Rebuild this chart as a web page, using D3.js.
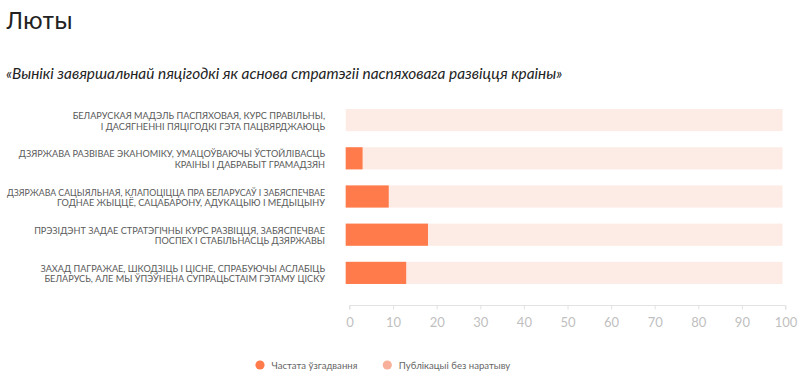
<!DOCTYPE html>
<html><head><meta charset="utf-8">
<script src="https://cdn.jsdelivr.net/npm/d3@7"></script>
<style>
html,body{margin:0;padding:0;background:#fff;}
svg{display:block;}
</style></head>
<body>
<svg id="c" width="800" height="379"></svg>
<script>
const title = "Люты";
const subtitle = "«Вынікі завяршальнай пяцігодкі як аснова стратэгіі паспяховага развіцця краіны»";
const categories = [
  ["БЕЛАРУСКАЯ МАДЭЛЬ ПАСПЯХОВАЯ, КУРС ПРАВІЛЬНЫ,", "І ДАСЯГНЕННІ ПЯЦІГОДКІ ГЭТА ПАЦВЯРДЖАЮЦЬ"],
  ["ДЗЯРЖАВА РАЗВІВАЕ ЭКАНОМІКУ, УМАЦОЎВАЮЧЫ ЎСТОЙЛІВАСЦЬ", "КРАІНЫ І ДАБРАБЫТ ГРАМАДЗЯН"],
  ["ДЗЯРЖАВА САЦЫЯЛЬНАЯ, КЛАПОЦІЦЦА ПРА БЕЛАРУСАЎ І ЗАБЯСПЕЧВАЕ", "ГОДНАЕ ЖЫЦЦЁ, САЦАБАРОНУ, АДУКАЦЫЮ І МЕДЫЦЫНУ"],
  ["ПРЭЗІДЭНТ ЗАДАЕ СТРАТЭГІЧНЫ КУРС РАЗВІЦЦЯ, ЗАБЯСПЕЧВАЕ", "ПОСПЕХ І СТАБІЛЬНАСЦЬ ДЗЯРЖАВЫ"],
  ["ЗАХАД ПАГРАЖАЕ, ШКОДЗІЦЬ І ЦІСНЕ, СПРАБУЮЧЫ АСЛАБІЦЬ", "БЕЛАРУСЬ, АЛЕ МЫ ЎПЭЎНЕНА СУПРАЦЬСТАІМ ГЭТАМУ ЦІСКУ"]
];
const mentions = [0, 3, 9, 18, 13];
const totalValue = 100;
const tickValues = [0, 10, 20, 30, 40, 50, 60, 70, 80, 90, 100];
const legendLabels = ["Частата ўзгадвання", "Публікацыі без наратыву"];
const colors = ["#ff7b4b", "#fdebe5", "#f9b09a"];

const svg = d3.select("#c");
const font = "Lato, 'Open Sans', sans-serif";

svg.append("text").attr("x", 6).attr("y", 29)
  .attr("font-family", "Roboto, 'Open Sans', sans-serif").attr("font-size", 24)
  .attr("fill", "#222").text(title);

svg.append("text").attr("x", 6).attr("y", 79)
  .attr("font-family", font).attr("font-style", "italic").attr("font-size", 15.4)
  .attr("fill", "#222").text(subtitle);

const x = d3.scaleLinear().domain([0, 100]).range([349.5, 785.5]);
const y = d3.scaleBand().domain(d3.range(categories.length)).range([101, 292]).paddingInner(0.42).paddingOuter(0.21);

const g = svg.append("g");
const inset = 3.8;
const barStart = x(0) - inset;
const barEnd = x(totalValue) - 3;
g.selectAll("rect.bg").data(mentions).join("rect").attr("class", "bg")
  .attr("x", barStart)
  .attr("y", (d, i) => y(i))
  .attr("width", barEnd - barStart)
  .attr("height", y.bandwidth())
  .attr("fill", colors[1]);
g.selectAll("rect.fg").data(mentions).join("rect").attr("class", "fg")
  .attr("x", barStart)
  .attr("y", (d, i) => y(i))
  .attr("width", d => d > 0 ? x(d) - barStart : 0)
  .attr("height", y.bandwidth())
  .attr("fill", colors[0]);

// category labels
const labelRight = 325, labelMax = 318;
const lab = svg.append("g");
categories.forEach((lines, i) => {
  const cy = y(i) + y.bandwidth() / 2;
  lines.forEach((ln, j) => {
    const t = lab.append("text").attr("text-anchor", "end")
      .attr("font-family", font).attr("font-size", 9.15).attr("fill", "#5a5a5a")
      .attr("x", labelRight).attr("y", cy - 1 + j * 10.5).text(ln);
    const w = t.node().getComputedTextLength();
    if (w > labelMax) t.attr("textLength", labelMax).attr("lengthAdjust", "spacingAndGlyphs");
  });
});

// axis
const axis = d3.axisBottom(x).tickValues(tickValues).tickSize(4).tickPadding(8).tickFormat(d3.format("d"));
const ag = svg.append("g").attr("transform", "translate(0,305.5)").call(axis);
ag.select(".domain").attr("stroke", "#e2e2e2").attr("d", `M${x(0)},4V0H${x(100)}V4`);
ag.selectAll(".tick line").attr("stroke", "#e2e2e2");
ag.selectAll(".tick text").attr("fill", "#bfbfbf").attr("font-family", font)
  .attr("font-size", 13).attr("font-weight", 400);

// legend
const legX = [260, 387.3];
const lg = svg.append("g");
legendLabels.forEach((l, i) => {
  lg.append("circle").attr("cx", legX[i]).attr("cy", 365).attr("r", 4.6).attr("fill", i === 0 ? colors[0] : colors[2]);
  lg.append("text").attr("x", legX[i] + 11.5).attr("y", 368.5)
    .attr("font-family", font).attr("font-size", 9.6).attr("fill", "#666").text(l);
});
</script>
</body></html>
